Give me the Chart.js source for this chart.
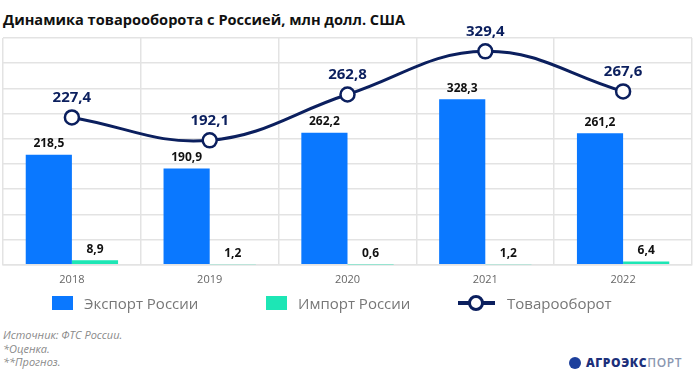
<!DOCTYPE html>
<html>
<head>
<meta charset="utf-8">
<script src="https://cdn.jsdelivr.net/npm/chart.js@4.4.1/dist/chart.umd.min.js"></script>
<style>
  html, body { margin: 0; padding: 0; background: #fff; }
  body { width: 695px; height: 375px; position: relative; overflow: hidden; font-family: "Open Sans", sans-serif; }
  #title { position: absolute; left: 3px; top: 9px; font-size: 14.6px; font-weight: 700; color: #111; white-space: nowrap; }
  #wrap { position: absolute; left: 0; top: 0; width: 695px; height: 294px; }
  #legend { position: absolute; top: 293px; left: 0; width: 695px; height: 20px; font-size: 15px; color: #777; }
  .lg { position: absolute; top: 0; display: flex; align-items: center; height: 20px; }
  .sw { width: 21px; height: 14px; margin-right: 11px; }
  .ln { position: relative; width: 37px; height: 20px; margin-right: 12px; }
  .ln:before { content: ""; position: absolute; left: 0; right: 0; top: 8px; height: 4px; background: #0b1f5e; }
  .ln:after { content: ""; position: absolute; left: 10px; top: 2px; width: 10px; height: 10px; border: 3.5px solid #0b1f5e; border-radius: 50%; background: #fff; }
  #foot { position: absolute; left: 3px; top: 328px; font-size: 11px; font-style: italic; color: #8a8a8a; line-height: 13.5px; }
  #logo { position: absolute; left: 569px; top: 354px; display: flex; align-items: center; font-size: 12px; font-weight: 800; letter-spacing: 0.6px; }
  #globe { width: 12px; height: 12px; border-radius: 50%; background: #1c3f9c; margin-right: 5px; }
</style>
</head>
<body>
<div id="title">Динамика товарооборота с Россией, млн долл. США</div>
<div id="wrap"><canvas id="chart"></canvas></div>
<div id="legend">
  <div class="lg" style="left:52px"><div class="sw" style="background:#0a78ff"></div>Экспорт России</div>
  <div class="lg" style="left:266px"><div class="sw" style="background:#1de6b5"></div>Импорт России</div>
  <div class="lg" style="left:458px"><div class="ln"></div>Товарооборот</div>
</div>
<div id="foot">Источник: ФТС России.<br>*Оценка.<br>**Прогноз.</div>
<div id="logo"><div id="globe"></div><span style="color:#1c2f7a">АГРОЭКС</span><span style="color:#8a96b0;font-weight:600">ПОРТ</span></div>
<script>
const years = ["2018", "2019", "2020", "2021", "2022"];
const exportRu = [218.5, 190.9, 262.2, 328.3, 261.2];
const importRu = [8.9, 1.2, 0.6, 1.2, 6.4];
const turnover = [227.4, 192.1, 262.8, 329.4, 267.6];

const fmt = (v) => v.toFixed(1).replace(".", ",");

// подписи значений над столбцами и точками
const valueLabels = {
  id: "valueLabels",
  afterDatasetsDraw(chart) {
    const ctx = chart.ctx;
    ctx.save();
    ctx.textAlign = "center";
    ctx.textBaseline = "middle";
    chart.data.datasets.forEach((ds, i) => {
      const meta = chart.getDatasetMeta(i);
      meta.data.forEach((el, j) => {
        if (ds.type === "line") {
          ctx.font = "bold 15px 'Open Sans'";
          ctx.fillStyle = "#0b1f5e";
          ctx.fillText(fmt(ds.data[j]), el.x, el.y - 20);
        } else {
          ctx.font = "bold 12px 'Open Sans'";
          ctx.fillStyle = "#111";
          ctx.fillText(fmt(ds.data[j]), el.x, el.y - 11);
        }
      });
    });
    ctx.restore();
  }
};

new Chart(document.getElementById("chart"), {
  type: "bar",
  data: {
    labels: years,
    datasets: [
      {
        type: "line",
        label: "Товарооборот",
        data: turnover,
        yAxisID: "y1",
        borderColor: "#0b1f5e",
        borderWidth: 3,
        tension: 0.4,
        pointRadius: 7,
        pointBorderWidth: 2.5,
        pointBackgroundColor: "#fff",
        pointBorderColor: "#0b1f5e",
        order: 0
      },
      {
        label: "Экспорт России",
        data: exportRu,
        backgroundColor: "#0a78ff",
        categoryPercentage: 0.67,
        barPercentage: 1.0,
        order: 1
      },
      {
        label: "Импорт России",
        data: importRu,
        backgroundColor: "#1de6b5",
        categoryPercentage: 0.67,
        barPercentage: 1.0,
        order: 1
      }
    ]
  },
  options: {
    responsive: true,
    maintainAspectRatio: false,
    animation: false,
    layout: { autoPadding: false, padding: { left: 3, right: 3, top: 38, bottom: 0 } },
    plugins: {
      legend: { display: false },
      tooltip: { enabled: false }
    },
    scales: {
      x: {
        grid: { color: "#e3e3e3", lineWidth: 1.5, drawTicks: false, offset: true },
        border: { color: "#e3e3e3", width: 1.5 },
        ticks: { color: "#666", font: { size: 11, family: "Open Sans" }, padding: 8 }
      },
      y: {
        min: 0,
        max: 450,
        ticks: { display: false, stepSize: 50 },
        grid: { color: "#e3e3e3", lineWidth: 1.5, drawTicks: false },
        border: { display: false },
        afterFit: (scale) => { scale.width = 0; }
      },
      y1: {
        display: false,
        min: 0,
        max: 350
      }
    }
  },
  plugins: [valueLabels]
});
</script>
</body>
</html>
